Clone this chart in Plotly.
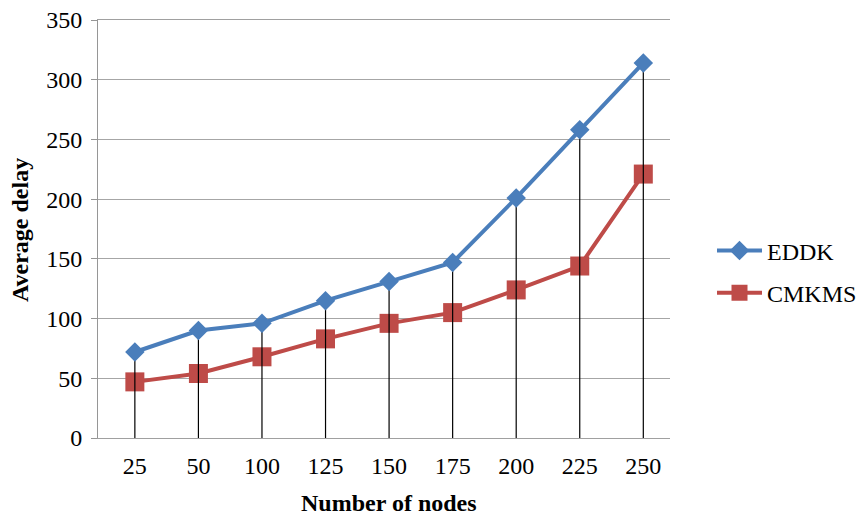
import plotly.graph_objects as go

nodes = ["25", "50", "100", "125", "150", "175", "200", "225", "250"]
eddk = [72, 90, 96, 115, 131, 147, 201, 258, 314]
cmkms = [47, 54, 68, 83, 96, 105, 124, 144, 221]
y_ticks = [0, 50, 100, 150, 200, 250, 300, 350]

blue = "#4A7EBB"
red = "#BE4B48"
font = "Liberation Serif"

W, H = 856, 507
L, T, B = 90, 12, 77
pw = 572
R = W - L - pw
ph = H - T - B

fig = go.Figure()
fig.add_trace(go.Scatter(
    x=nodes, y=cmkms, name="CMKMS", mode="lines+markers",
    line=dict(color=red, width=4),
    marker=dict(symbol="square", size=19, color=red),
    legendrank=2, legendgroup="b",
))
fig.add_trace(go.Scatter(
    x=nodes, y=eddk, mode="markers", showlegend=False, hoverinfo="skip",
    marker=dict(size=1, opacity=0),
    error_y=dict(type="data", symmetric=False, array=[0] * len(eddk),
                 arrayminus=eddk, color="black", thickness=1.2, width=0),
))
fig.add_trace(go.Scatter(
    x=nodes, y=eddk, name="EDDK", mode="lines+markers",
    line=dict(color=blue, width=4),
    marker=dict(symbol="diamond", size=15, color=blue),
    legendrank=1, legendgroup="a",
))

fig.update_layout(
    width=W, height=H,
    margin=dict(l=L, r=R, t=T, b=B),
    paper_bgcolor="white", plot_bgcolor="white",
    font=dict(family=font, size=24, color="black"),
    legend=dict(xref="container", yref="container",
                x=704 / W, y=1 - 264 / H, yanchor="middle",
                xanchor="left", font=dict(family=font, size=24),
                itemwidth=45, tracegroupgap=8),
    xaxis=dict(
        type="category", range=[-0.58, len(nodes) - 0.58],
        showgrid=False, showline=True, linecolor="#A0A0A0",
        linewidth=1, mirror=True, ticks="", tickfont=dict(family=font, size=24),
        ticklabelstandoff=6, automargin=False,
    ),
    yaxis=dict(
        range=[0, 350], tickvals=y_ticks, showgrid=True, gridcolor="#A6A6A6",
        gridwidth=1, showline=True, linecolor="#969696", linewidth=1,
        ticks="outside", ticklen=6, tickcolor="#969696", zeroline=False,
        tickfont=dict(family=font, size=24), automargin=False,
        ticklabelstandoff=4, ticklabeloverflow="allow",
    ),
    annotations=[
        dict(text="<b>Number of nodes</b>", xref="paper", yref="paper",
             x=(381 - L) / pw, y=-(495 - (H - B)) / ph,
             xanchor="center", yanchor="middle", showarrow=False,
             font=dict(family=font, size=24)),
        dict(text="<b>Average delay</b>", xref="paper", yref="paper",
             x=-(L - 12) / pw, y=((H - B) - 222) / ph, textangle=-90,
             xanchor="center", yanchor="middle", showarrow=False,
             font=dict(family=font, size=24)),
    ],
)

fig.write_html("out.html")
